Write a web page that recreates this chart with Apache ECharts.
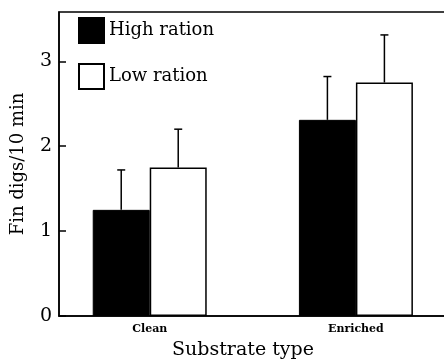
<!DOCTYPE html>
<html><head><meta charset="utf-8">
<script src="https://cdn.jsdelivr.net/npm/echarts@6/dist/echarts.min.js"></script>
<style>html,body{margin:0;padding:0;background:#fff}#c{width:444px;height:362px}</style>
</head><body><div id="c"></div>
<script>
const categories = ['Clean', 'Enriched'];
const seriesNames = ['High ration', 'Low ration'];
const highMeans = [1.25, 2.31];
const highErr = [0.47, 0.51];
const lowMeans = [1.75, 2.75];
const lowErr = [0.45, 0.56];
const yTicks = [0, 1, 2, 3];

const catPos = categories.map((c, i) => i + 1);
const BAR_W = 57;
const FONT = 'DejaVu Serif';

const errData = [];
catPos.forEach((x, i) => {
  errData.push([x, highMeans[i], highMeans[i] + highErr[i], 0]);
  errData.push([x, lowMeans[i], lowMeans[i] + lowErr[i], 1]);
});

const chart = echarts.init(document.getElementById('c'), null, {renderer: 'canvas'});
chart.setOption({
  animation: false,
  backgroundColor: '#fff',
  grid: {left: 59, top: 12, width: 400, height: 304, outerBoundsMode: 'none', containLabel: false,
         show: true, borderColor: '#000', borderWidth: 1.5, backgroundColor: 'transparent'},
  legend: {
    data: seriesNames, orient: 'vertical', left: 73, top: 12, itemWidth: 25, itemHeight: 25, itemGap: 19,
    icon: 'rect', textStyle: {fontFamily: FONT, fontSize: 18, color: '#000'}
  },
  xAxis: {
    type: 'value', min: 0.56, max: 2.5,
    splitLine: {show: false},
    axisLine: {show: true, lineStyle: {color: '#000', width: 1.5}},
    axisTick: {show: false},
    axisLabel: {
      customValues: catPos, margin: 8,
      formatter: v => categories[Math.round(v) - 1] || '',
      fontFamily: FONT, fontSize: 11, fontWeight: 'bold', color: '#000'
    },
    name: 'Substrate type', nameLocation: 'middle', nameGap: 25,
    nameTextStyle: {fontFamily: FONT, fontSize: 19, color: '#000', padding: [0, 32, 0, 0]}
  },
  yAxis: {
    type: 'value', min: 0, max: 3.58,
    splitLine: {show: false},
    axisLine: {show: true, lineStyle: {color: '#000', width: 1.5}},
    axisTick: {show: true, inside: true, length: 7, customValues: yTicks, lineStyle: {color: '#000', width: 1.5}},
    axisLabel: {customValues: yTicks, margin: 7, fontFamily: FONT, fontSize: 19, color: '#000'},
    name: 'Fin digs/10 min', nameLocation: 'middle', nameGap: 32,
    nameTextStyle: {fontFamily: FONT, fontSize: 18, color: '#000'}
  },
  series: [
    {
      name: seriesNames[0], type: 'bar', barWidth: BAR_W, barGap: '0%',
      data: catPos.map((x, i) => [x, highMeans[i]]),
      itemStyle: {color: '#000', borderColor: '#000', borderWidth: 1}
    },
    {
      name: seriesNames[1], type: 'bar', barWidth: BAR_W, barGap: '0%',
      data: catPos.map((x, i) => [x, lowMeans[i]]),
      itemStyle: {color: '#fff', borderColor: '#000', borderWidth: 1.5}
    },
    {
      type: 'custom', z: 10, silent: true,
      data: errData,
      encode: {x: 0, y: [1, 2]},
      renderItem: function (params, api) {
        const x = api.value(0), lo = api.value(1), hi = api.value(2), s = api.value(3);
        const p0 = api.coord([x, lo]);
        const p1 = api.coord([x, hi]);
        const cx = p0[0] + (s === 0 ? -BAR_W / 2 : BAR_W / 2);
        const st = {stroke: '#000', lineWidth: 1.5};
        return {type: 'group', children: [
          {type: 'line', shape: {x1: cx, y1: p0[1], x2: cx, y2: p1[1]}, style: st},
          {type: 'line', shape: {x1: cx - 4, y1: p1[1], x2: cx + 4, y2: p1[1]}, style: st}
        ]};
      }
    }
  ]
});
</script></body></html>
